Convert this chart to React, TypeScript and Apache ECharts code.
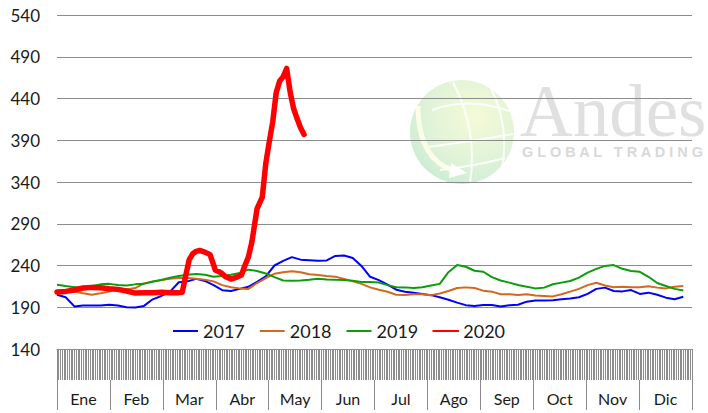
import React, { useEffect, useRef } from "react";
import * as echarts from "echarts";

const months = ["Ene", "Feb", "Mar", "Abr", "May", "Jun", "Jul", "Ago", "Sep", "Oct", "Nov", "Dic"];
const seriesNames = ["2017", "2018", "2019", "2020"];
const DAY_STEP = 5;

const v2017 = [
  205, 202, 191, 192, 192, 192, 193, 192, 190, 189.6,
  191.6, 199.5, 203.5, 208.7, 220, 221, 224, 221.5, 216.5, 210.5,
  209.5, 212, 214.5, 220.5, 227, 240, 245.5, 250, 247, 246.3,
  245.6, 246, 251.5, 252, 249, 239.5, 226.5, 222.5, 217, 211,
  208.5, 207.5, 206, 204.5, 202, 199, 195.5, 192.5, 191.6, 192.8,
  192.8, 191, 192.4, 193, 196.7, 198, 198, 198.5, 199.5, 200.5,
  202, 206, 212, 213.5, 209.5, 209, 210.6, 206, 207.5, 205,
  201.5, 199.5, 202.5,
];

const v2018 = [
  208.7, 208.7, 208.7, 206.7, 205, 206.7, 208.7, 211.4, 211.4, 213,
  218.6, 221, 222.6, 224, 225, 225, 224, 223, 221, 216.5,
  214, 212.6, 212, 219, 225, 230, 232, 233, 232, 229.5,
  228.5, 227.3, 226.5, 224, 221, 218, 213.8, 211, 208.5, 205,
  204.7, 205.5, 205.5, 204.5, 206.5, 209.5, 213, 213.8, 213, 209.9,
  208.7, 205.5, 205.5, 204.7, 205.5, 204, 203.5, 203, 205.5, 208.7,
  212, 216.5, 219.4, 216, 214, 214.6, 214, 214, 215.2, 213.5,
  212.6, 214.6, 215.4,
];

const v2019 = [
  217, 215.4, 214, 214, 215.4, 217.4, 218, 216.6, 216, 217.4,
  218, 220.6, 222.6, 225.3, 227.3, 229, 229.7, 229, 226.5, 227.5,
  229, 231, 235, 233.5, 230.5, 226, 222, 221.6, 222, 222.8,
  224, 223.3, 222.8, 222.6, 221.8, 220.2, 220.2, 219.5, 216.5, 214,
  213.8, 213, 214, 216, 218, 232, 240.5, 238.5, 233.7, 232.5,
  226, 222, 219.5, 216.6, 214.6, 212.6, 213.5, 217.5, 219.5, 221.5,
  225.5, 231.5, 236, 239.5, 240.5, 236, 233.5, 232.5, 226.5, 219,
  215.5, 212, 210,
];

const days2020 = [
  0, 5, 10, 15, 20, 25, 30, 35, 40, 45, 50, 55, 60, 65, 70,
  72, 74, 76, 78, 80, 82,
  85, 88, 91, 94, 97, 100, 103, 106,
  108, 110, 112, 115, 118, 120, 122, 124, 126, 128, 130, 132, 134, 136, 138, 140, 142,
];
const v2020 = [
  208.3, 209, 210.6, 213, 213.8, 213.4, 212.2, 211.4, 209.5, 207, 207.5, 207.5, 208, 207.5, 207.5,
  208, 228, 247, 254, 257, 258,
  256, 253, 234.5, 231.7, 226.5, 223.7, 225.7, 228.5,
  240, 250, 268, 308, 322, 362, 388, 412, 447, 461, 466, 476, 448, 428, 416, 405, 397,
];

const colors = ["#0000ff", "#d2691e", "#0c9c0c", "#ff0000"];
const FONT = "Lato, 'Open Sans', sans-serif";

function stepped(vals: number[]) {
  return vals.map((v, i) => [i * DAY_STEP, v]);
}

export default function App() {
  const ref = useRef<HTMLDivElement>(null);
  useEffect(() => {
    if (!ref.current) return;
    const chart = echarts.init(ref.current, null, { renderer: "svg" });
    const white = "rgba(255,255,255,0.85)";
    const option: any = {
      animation: false,
      grid: { left: 57, right: 16, top: 15, bottom: 64 },
      xAxis: [
        {
          type: "value",
          min: 0,
          max: 365,
          interval: 1,
          axisLabel: { show: false },
          splitLine: { show: false },
          axisLine: { show: true, lineStyle: { color: "#8c8c8c", width: 1 } },
          axisTick: { show: true, length: 31, lineStyle: { color: "#8c8c8c", width: 1 } },
        },
        {
          type: "category",
          data: months,
          position: "bottom",
          offset: 31,
          axisLine: { show: false },
          axisTick: { show: true, length: 30, interval: 0, lineStyle: { color: "#8c8c8c", width: 1 } },
          axisLabel: { interval: 0, margin: 10, fontSize: 16, fontFamily: FONT, color: "#1a1a1a" },
          splitLine: { show: false },
        },
      ],
      yAxis: {
        type: "value",
        min: 140,
        max: 540,
        interval: 50,
        axisLine: { show: false },
        axisTick: { show: false },
        splitLine: { lineStyle: { color: "#8c8c8c", width: 1 } },
        axisLabel: { margin: 17, fontSize: 17, fontFamily: FONT, color: "#1a1a1a" },
      },
      legend: {
        data: seriesNames,
        left: 172,
        top: 322,
        itemWidth: 25,
        itemHeight: 10,
        itemGap: 14,
        padding: 0,
        itemStyle: { opacity: 0 },
        textStyle: { fontSize: 18, fontFamily: FONT, color: "#1a1a1a" },
      },
      graphic: {
        elements: [
          {
            type: "circle",
            z: -10,
            silent: true,
            shape: { cx: 462, cy: 132, r: 52 },
            style: {
              fill: {
                type: "radial",
                x: 0.62,
                y: 0.35,
                r: 0.75,
                colorStops: [
                  { offset: 0, color: "#f5fad6" },
                  { offset: 0.6, color: "#e0f3d8" },
                  { offset: 1, color: "#c8ebd4" },
                ],
              },
            },
          },
          { type: "bezierCurve", z: -9, silent: true, shape: { x1: 453, y1: 82, cpx1: 478, cpy1: 130, x2: 470, y2: 183 }, style: { stroke: white, lineWidth: 2, fill: "none" } },
          { type: "bezierCurve", z: -9, silent: true, shape: { x1: 490, y1: 86, cpx1: 512, cpy1: 130, x2: 500, y2: 176 }, style: { stroke: white, lineWidth: 2, fill: "none" } },
          { type: "bezierCurve", z: -9, silent: true, shape: { x1: 432, y1: 110, cpx1: 470, cpy1: 96, x2: 512, y2: 112 }, style: { stroke: white, lineWidth: 2, fill: "none" } },
          { type: "bezierCurve", z: -9, silent: true, shape: { x1: 428, y1: 147, cpx1: 470, cpy1: 142, x2: 513, y2: 134 }, style: { stroke: white, lineWidth: 2, fill: "none" } },
          { type: "bezierCurve", z: -9, silent: true, shape: { x1: 440, y1: 170, cpx1: 475, cpy1: 166, x2: 505, y2: 158 }, style: { stroke: white, lineWidth: 2, fill: "none" } },
          { type: "bezierCurve", z: -8, silent: true, shape: { x1: 418, y1: 106, cpx1: 418, cpy1: 160, x2: 455, y2: 171 }, style: { stroke: "#fbfde6", lineWidth: 5, fill: "none" } },
          { type: "polygon", z: -8, silent: true, shape: { points: [[451, 163], [467, 173], [449, 178]] }, style: { fill: "#ffffff" } },
          {
            type: "text",
            z: -10,
            silent: true,
            x: 520,
            y: 111,
            style: { text: "Andes", font: '73px "Liberation Serif"', lineHeight: 44, fill: "#e0e0e0", verticalAlign: "middle" },
          },
          {
            type: "text",
            z: -10,
            silent: true,
            x: 522,
            y: 152,
            style: { text: "G L O B A L   T R A D I N G", font: 'bold 14.5px "Liberation Sans"', lineHeight: 13, fill: "#d8d8d8", verticalAlign: "middle" },
          },
        ],
      },
      series: [
        { name: "2017", type: "line", data: stepped(v2017), showSymbol: false, symbol: "none", color: colors[0], lineStyle: { width: 2, color: colors[0] }, z: 2 },
        { name: "2018", type: "line", data: stepped(v2018), showSymbol: false, symbol: "none", color: colors[1], lineStyle: { width: 2, color: colors[1] }, z: 2 },
        { name: "2019", type: "line", data: stepped(v2019), showSymbol: false, symbol: "none", color: colors[2], lineStyle: { width: 2, color: colors[2] }, z: 2 },
        {
          name: "2020",
          type: "line",
          data: days2020.map((d, i) => [d, v2020[i]]),
          showSymbol: false,
          symbol: "none",
          color: colors[3],
          lineStyle: { width: 5.5, color: colors[3], cap: "round", join: "round" },
          z: 3,
        },
      ],
    };
    chart.setOption(option);
    return () => chart.dispose();
  }, []);
  return <div ref={ref} style={{ position: "fixed", left: 0, top: 0, width: 708, height: 413, background: "#fff" }} />;
}
